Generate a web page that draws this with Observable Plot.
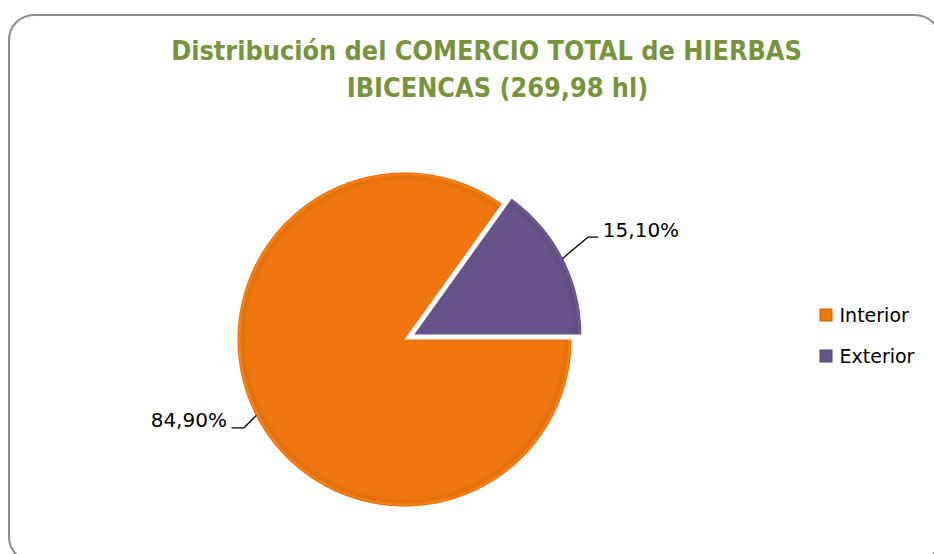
<!DOCTYPE html>
<html><head><meta charset="utf-8">
<script src="https://cdn.jsdelivr.net/npm/d3@7"></script>
<script src="https://cdn.jsdelivr.net/npm/@observablehq/plot@0.6"></script>
<style>body{margin:0;background:#fff;} #chart svg{display:block;}</style>
</head><body><div id="chart"></div>
<script>
// ---- data ----
const categories = ["Interior", "Exterior"];
const values = [84.90, 15.10];
const valueLabels = ["84,90%", "15,10%"];
const colors = ["#F0770F", "#67538A"];
const titleLines = ["Distribución del COMERCIO TOTAL de HIERBAS", "IBICENCAS (269,98 hl)"];

// ---- layout ----
const W = 934, H = 554;
const cx = 404, cy = 339, R = 167;
const explode = [0, 11];
const startAngle = Math.PI / 2; // first slice starts at 3 o'clock, clockwise
const elbows = [[-12, 12, -12], [25, -21, 10]];
const titleX = [486, 497];
const green = "#77933C";
const font = "DejaVu Sans";

const total = d3.sum(values);
let acc = startAngle;
const slices = categories.map((c, i) => {
  const a0 = acc, a1 = acc + values[i] / total * 2 * Math.PI;
  acc = a1;
  const mid = (a0 + a1) / 2;
  const d = explode[i];
  const ox = cx + d * Math.sin(mid), oy = cy - d * Math.cos(mid);
  const n = Math.ceil((a1 - a0) / (Math.PI / 360));
  const pts = [{c, x: ox, y: oy}];
  for (let k = 0; k <= n; k++) {
    const a = a0 + (a1 - a0) * k / n;
    pts.push({c, x: ox + R * Math.sin(a), y: oy - R * Math.cos(a)});
  }
  const p0 = {x: ox + R * Math.sin(mid), y: oy - R * Math.cos(mid)};
  const e = elbows[i];
  const p1 = {x: p0.x + e[0], y: p0.y + e[1]};
  const p2 = {x: p1.x + e[2], y: p1.y};
  return {c, i, ox, oy, pts, leader: [p0, p1, p2].map(p => ({...p, c})), label: valueLabels[i], lx: p2.x + (e[2] > 0 ? 5 : -5), ly: p2.y - 7, right: e[2] > 0};
});

const legendX = 820, legendY0 = 315, legendDY = 41, sq = 12;

const marks = [
  Plot.rect([0], {x1: () => 9, x2: () => 940, y1: () => 15, y2: () => 562, rx: 25, fill: "white", stroke: "#8c8c8c", strokeWidth: 2}),
  ...slices.map(s => Plot.line(s.pts, {x: "x", y: "y", curve: "linear-closed", fill: `url(#grad${s.i})`, stroke: "none"})),
  ...slices.map(s => Plot.line(s.leader, {x: "x", y: "y", stroke: "#000", strokeWidth: 1.3})),
  Plot.text(slices.filter(s => s.right), {x: "lx", y: "ly", text: "label", textAnchor: "start", fontSize: 20, fill: "#000", lineAnchor: "middle"}),
  Plot.text(slices.filter(s => !s.right), {x: "lx", y: "ly", text: "label", textAnchor: "end", fontSize: 20, fill: "#000", lineAnchor: "middle"}),
  Plot.text(titleLines, {x: (d, i) => titleX[i], y: (d, i) => 51 + i * 37, text: d => d, fontSize: 26.8, fontWeight: "bold", fill: green, fontFamily: "DejaVu Sans Condensed", lineAnchor: "middle"}),
  Plot.rect(categories, {x1: () => legendX, x2: () => legendX + sq, y1: (d, i) => legendY0 + i * legendDY - sq / 2, y2: (d, i) => legendY0 + i * legendDY + sq / 2, fill: (d, i) => colors[i], stroke: (d, i) => d3.color(colors[i]).darker(0.6).formatHex(), strokeWidth: 1}),
  Plot.text(categories, {x: () => legendX + sq + 7, y: (d, i) => legendY0 + i * legendDY, text: d => d, textAnchor: "start", fontSize: 19, fill: "#000", lineAnchor: "middle"})
];

const svg = Plot.plot({
  width: W, height: H, margin: 0,
  x: {domain: [0, W], range: [0, W], axis: null},
  y: {domain: [0, H], range: [0, H], axis: null},
  style: {fontFamily: font, background: "white", overflow: "hidden"},
  marks
});

const defs = d3.select(svg).insert("defs", ":first-child");
slices.forEach(s => {
  const base = d3.color(colors[s.i]);
  const g = defs.append("radialGradient").attr("id", "grad" + s.i)
    .attr("gradientUnits", "userSpaceOnUse").attr("cx", s.ox).attr("cy", s.oy).attr("r", R);
  [[0, base.formatHex()], [0.94, base.formatHex()], [0.975, base.darker(0.2).formatHex()], [0.99, base.brighter(0.25).formatHex()], [1, base.darker(0.3).formatHex()]]
    .forEach(([o, c]) => g.append("stop").attr("offset", o).attr("stop-color", c));
});

document.getElementById("chart").appendChild(svg);
</script>
</body></html>
